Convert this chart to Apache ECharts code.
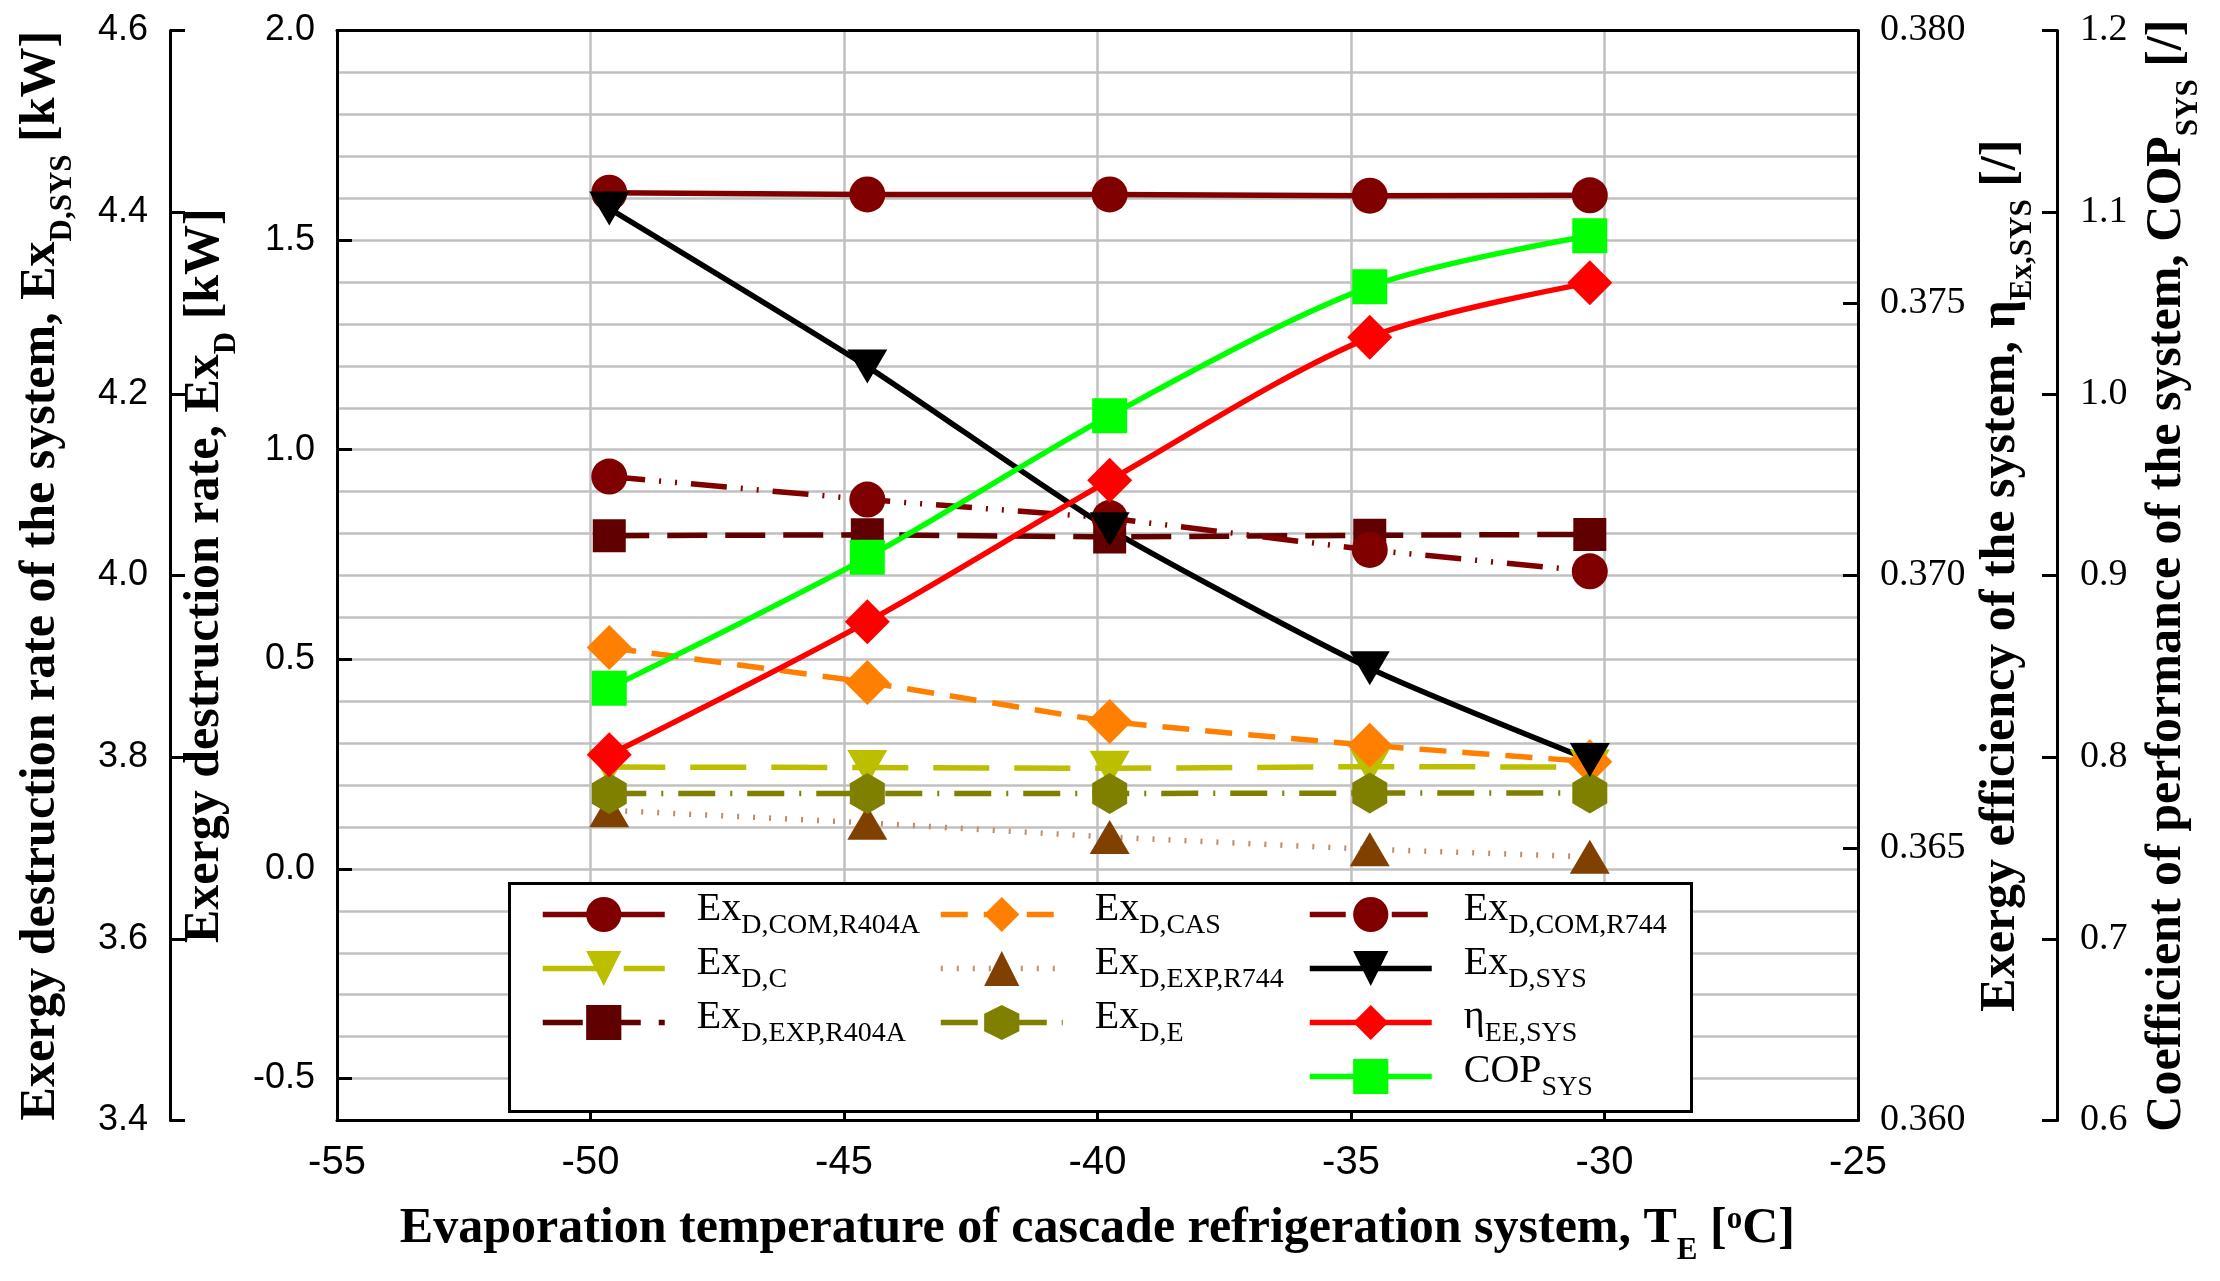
<!DOCTYPE html>
<html><head><meta charset="utf-8">
<script src="https://cdn.jsdelivr.net/npm/echarts@6/dist/echarts.min.js"></script>
<style>html,body{margin:0;padding:0;background:#fff}#c{width:2220px;height:1281px}</style>
</head><body><div id="c"></div>
<script>
// ---- data ----
const evapTemps = [-49.63, -44.54, -39.76, -34.63, -30.29];
const exComR404A = [1.613, 1.609, 1.609, 1.606, 1.607];
const exC        = [0.243, 0.242, 0.240, 0.244, 0.243];
const exExpR404A = [0.795, 0.797, 0.792, 0.796, 0.798];
const exCas      = [0.528, 0.445, 0.352, 0.295, 0.256];
const exExpR744  = [0.140, 0.110, 0.076, 0.047, 0.029];
const exE        = [0.180, 0.180, 0.180, 0.181, 0.181];
const exComR744  = [0.936, 0.881, 0.837, 0.761, 0.710];
const exSys      = [4.404, 4.230, 4.051, 3.898, 3.797];
const etaSys     = [0.36671, 0.36915, 0.37175, 0.37437, 0.37537];
const copSys     = [0.838, 0.910, 0.988, 1.059, 1.087];

const xTicks = [-55, -50, -45, -40, -35, -30, -25];
const exDTicks = [-0.5, 0.0, 0.5, 1.0, 1.5, 2.0];
const sysTicks = [3.4, 3.6, 3.8, 4.0, 4.2, 4.4, 4.6];
const etaTicks = [0.360, 0.365, 0.370, 0.375, 0.380];
const copTicks = [0.6, 0.7, 0.8, 0.9, 1.0, 1.1, 1.2];

// legend labels: [main, subscript]
const labels = {
  'ExD,COM,R404A': ['Ex', 'D,COM,R404A'],
  'ExD,C': ['Ex', 'D,C'],
  'ExD,EXP,R404A': ['Ex', 'D,EXP,R404A'],
  'ExD,CAS': ['Ex', 'D,CAS'],
  'ExD,EXP,R744': ['Ex', 'D,EXP,R744'],
  'ExD,E': ['Ex', 'D,E'],
  'ExD,COM,R744': ['Ex', 'D,COM,R744'],
  'ExD,SYS': ['Ex', 'D,SYS'],
  'ηEE,SYS': ['η', 'EE,SYS'],
  'COPSYS': ['COP', 'SYS']
};

const pairs = vals => vals.map((v, i) => [evapTemps[i], v]);
const HEX = 'path://M0,-1 L0.866,-0.5 L0.866,0.5 L0,1 L-0.866,0.5 L-0.866,-0.5 Z';
const LW = 5.5;

function mk(name, yIdx, vals, color, symbol, size, rot, dash, smooth, lineColor) {
  return {
    name, type: 'line', yAxisIndex: yIdx, data: pairs(vals),
    symbol, symbolSize: size, symbolRotate: rot || 0, smooth: smooth || false,
    showAllSymbol: true,
    itemStyle: { color: color, opacity: 1 },
    lineStyle: { color: lineColor || color, width: LW, type: dash || 'solid' },
    emphasis: { disabled: true }, animation: false
  };
}

const series = [
  mk('ExD,COM,R404A', 1, exComR404A, '#800000', 'circle', 36, 0, 'solid'),
  mk('ExD,C', 1, exC, '#BBBF00', 'triangle', [40, 35], 180, [56, 25]),
  mk('ExD,EXP,R404A', 1, exExpR404A, '#600000', 'rect', 33, 0, [40, 18]),
  mk('ExD,CAS', 1, exCas, '#FF8000', 'diamond', 45, 0, [27, 16], 0.15),
  mk('ExD,EXP,R744', 1, exExpR744, '#804000', 'triangle', [40, 34], 0, [2, 14], 0, '#B89070'),
  mk('ExD,E', 1, exE, '#808000', HEX, [35, 41], 0, [37, 15, 2, 15]),
  mk('ExD,COM,R744', 1, exComR744, '#800000', 'circle', 36, 0, [36, 14, 2, 14, 2, 14]),
  mk('ExD,SYS', 2, exSys, '#000000', 'triangle', [40, 34], 180, 'solid', 0.2),
  mk('ηEE,SYS', 3, etaSys, '#FF0000', 'diamond', 45, 0, 'solid', 0.3),
  mk('COPSYS', 4, copSys, '#00FF00', 'rect', 35, 0, 'solid', 0.3)
];

const SERIF = 'Liberation Serif';
const SANS = 'Liberation Sans';
const titleRich = {
  t: { fontFamily: SERIF, fontWeight: 'bold', fontSize: 50, lineHeight: 50, verticalAlign: 'top', color: '#000' },
  s: { fontFamily: SERIF, fontWeight: 'bold', fontSize: 31, lineHeight: 31, verticalAlign: 'bottom', color: '#000' },
  p: { fontFamily: SERIF, fontWeight: 'bold', fontSize: 31, lineHeight: 31, verticalAlign: 'top', color: '#000' },
  h: { fontSize: 1, lineHeight: 62, verticalAlign: 'top' }
};
const legendRich = {
  g: { fontSize: 1, width: 27 },
  a: { fontFamily: SERIF, fontSize: 40, lineHeight: 40, verticalAlign: 'top', color: '#000' },
  b: { fontFamily: SERIF, fontSize: 28, lineHeight: 28, verticalAlign: 'bottom', color: '#000' },
  h: { fontSize: 1, lineHeight: 51, verticalAlign: 'top' }
};

const axisLineStyle = { show: true, onZero: false, lineStyle: { color: '#000', width: 3 } };
const tickStyle = { show: true, inside: true, length: 15, lineStyle: { color: '#000', width: 3 } };

function legendCol(names, left) {
  return {
    data: names, orient: 'vertical', left: left, top: 889, padding: 0,
    itemWidth: 122, itemHeight: 44, itemGap: 3, selectedMode: false,
    lineStyle: { width: LW },
    formatter: n => '{g| }{a|' + labels[n][0] + '}{b|' + labels[n][1] + '}{h| }',
    textStyle: { rich: legendRich }
  };
}

const option = {
  backgroundColor: '#fff',
  animation: false,
  grid: { left: 337, right: 362, top: 30.5, bottom: 160.5, show: false },
  xAxis: [{
    type: 'value', min: -55, max: -25, interval: 5, position: 'bottom',
    axisLine: axisLineStyle, axisTick: tickStyle,
    axisLabel: { fontFamily: SANS, fontSize: 40, color: '#000', margin: 22 },
    splitLine: { show: true, lineStyle: { color: '#C0C0C0', width: 2.5 } },
    name: '{t|Evaporation temperature of cascade refrigeration system, T}{s|E}{t| [}{p|o}{t|C]}{h| }',
    nameLocation: 'middle', nameGap: 84,
    nameTextStyle: { rich: titleRich }
  }, {
    type: 'value', min: -55, max: -25, interval: 5, position: 'top',
    axisLine: axisLineStyle, axisTick: { show: false }, axisLabel: { show: false }, splitLine: { show: false }
  }],
  yAxis: [{
    // minor grid helper, same range as Ex_D axis
    type: 'value', min: -0.6, max: 2.0, interval: 0.1, position: 'left',
    axisLine: { show: false }, axisTick: { show: false }, axisLabel: { show: false },
    splitLine: { show: true, lineStyle: { color: '#C0C0C0', width: 2.5 } }
  }, {
    type: 'value', min: -0.6, max: 2.0, position: 'left', offset: 0,
    axisLine: axisLineStyle,
    axisTick: Object.assign({}, tickStyle, { customValues: exDTicks }),
    axisLabel: { customValues: exDTicks, formatter: v => v.toFixed(1), fontFamily: SANS, fontSize: 36, color: '#000', margin: 22 },
    splitLine: { show: false },
    name: '{t|Exergy destruction rate, Ex}{s|D}{t| [kW]}{h| }',
    nameLocation: 'middle', nameRotate: 90, nameGap: 84,
    nameTextStyle: { rich: titleRich }
  }, {
    type: 'value', min: 3.4, max: 4.6, interval: 0.2, position: 'left', offset: 167,
    axisLine: axisLineStyle, axisTick: tickStyle,
    axisLabel: { formatter: v => v.toFixed(1), fontFamily: SANS, fontSize: 36, color: '#000', margin: 22 },
    splitLine: { show: false },
    name: '{t|Exergy destruction rate of the system, Ex}{s|D,SYS}{t| [kW]}{h| }',
    nameLocation: 'middle', nameRotate: 90, nameGap: 92,
    nameTextStyle: { rich: titleRich }
  }, {
    type: 'value', min: 0.360, max: 0.380, interval: 0.005, position: 'right', offset: 0,
    axisLine: axisLineStyle, axisTick: tickStyle,
    axisLabel: { formatter: v => v.toFixed(3), fontFamily: SERIF, fontSize: 38, color: '#000', margin: 22 },
    splitLine: { show: false },
    name: '{t|Exergy efficiency of the system, η}{s|Ex,SYS}{t| [/]}{h| }',
    nameLocation: 'middle', nameRotate: 90, nameGap: 106,
    nameTextStyle: { rich: titleRich }
  }, {
    type: 'value', min: 0.6, max: 1.2, interval: 0.1, position: 'right', offset: 199,
    axisLine: axisLineStyle, axisTick: tickStyle,
    axisLabel: { formatter: v => v.toFixed(1), fontFamily: SERIF, fontSize: 38, color: '#000', margin: 23 },
    splitLine: { show: false },
    name: '{t|Coefficient of performance of the system, COP}{s|SYS}{t| [/]}{h| }',
    nameLocation: 'middle', nameRotate: 90, nameGap: 85,
    nameTextStyle: { rich: titleRich }
  }],
  legend: [
    legendCol(['ExD,COM,R404A', 'ExD,C', 'ExD,EXP,R404A'], 540),
    legendCol(['ExD,CAS', 'ExD,EXP,R744', 'ExD,E'], 938),
    legendCol(['ExD,COM,R744', 'ExD,SYS', 'ηEE,SYS', 'COPSYS'], 1307)
  ],
  graphic: [{
    type: 'rect', left: 508, top: 882, z: 3,
    shape: { width: 1182, height: 228 },
    style: { fill: '#fff', stroke: '#000', lineWidth: 3 }
  }],
  series: series
};

const chart = echarts.init(document.getElementById('c'));
chart.setOption(option);
</script>
</body></html>
